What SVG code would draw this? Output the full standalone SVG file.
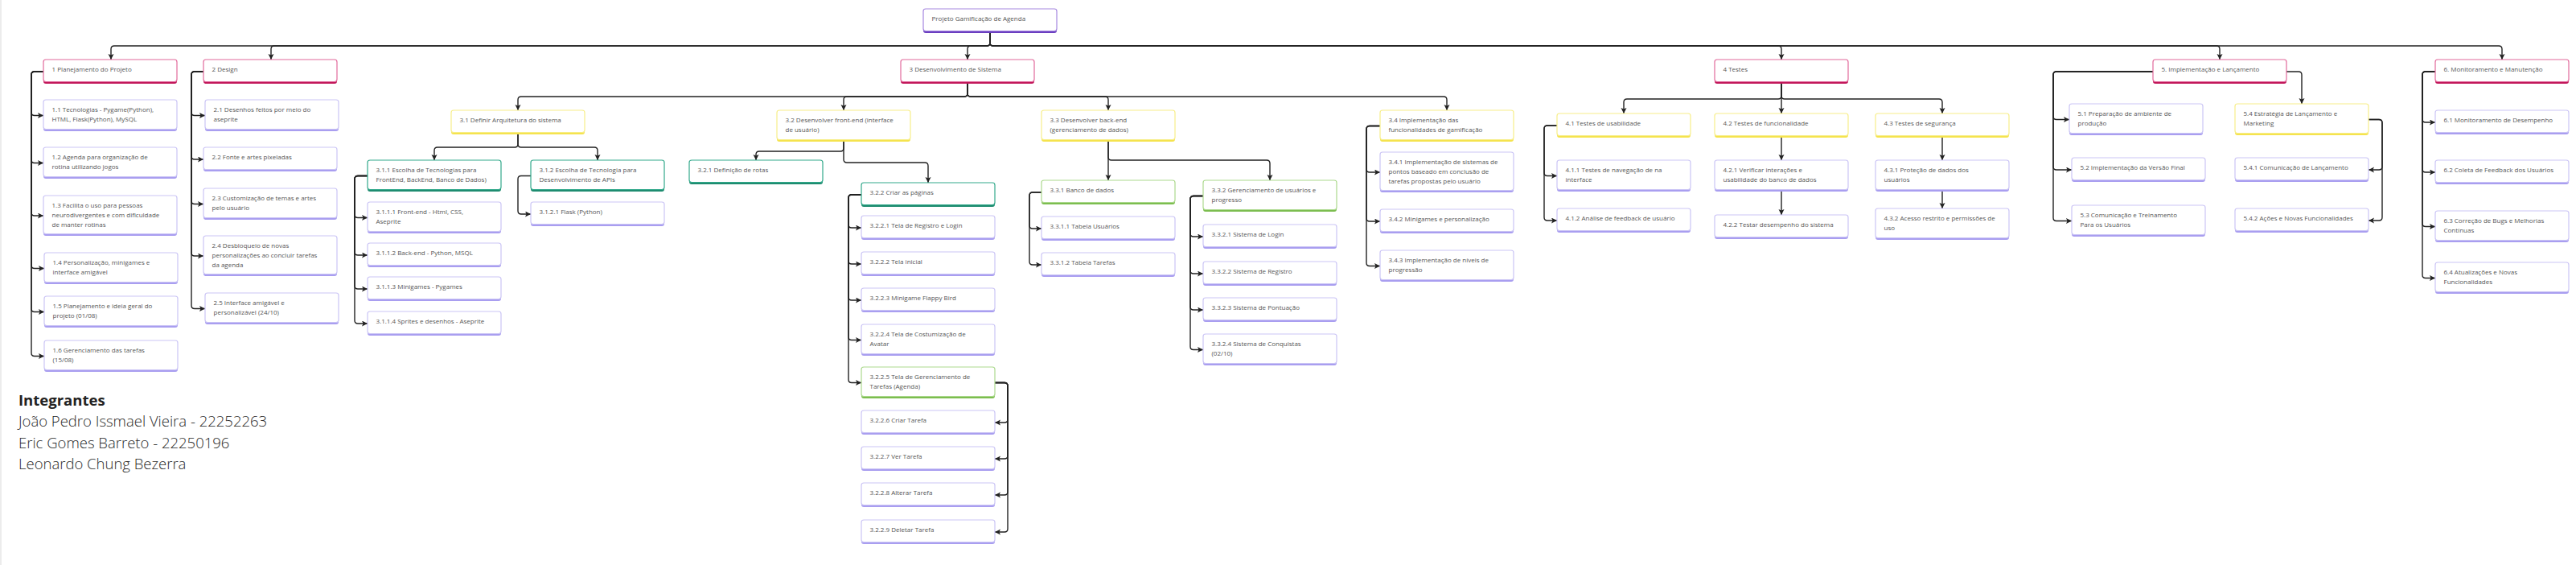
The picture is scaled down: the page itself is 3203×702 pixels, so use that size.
<svg xmlns="http://www.w3.org/2000/svg" width="3203" height="702" viewBox="0 0 3203 702">
<style>
.bg{fill:#fff}
.b{rx:3px;ry:3px}
.f{fill:#fff;stroke-width:1.2;rx:3px;ry:3px}
text{font-family:"Open Sans","Liberation Sans",sans-serif;font-size:8px;fill:#555}
.pur .b{fill:#6b3fc0}.pur .f{stroke:#a688e0}
.mag .b{fill:#c2185b}.mag .f{stroke:#e26a9c}
.yel .b{fill:#f5e34e}.yel .f{stroke:#f7ee8a}
.teal .b{fill:#1e8c70}.teal .f{stroke:#33a98b}
.grn .b{fill:#7cbd4f}.grn .f{stroke:#acd98e}
.lav .b{fill:#a99ef0}.lav .f{stroke:#cbc5f5}
#conn path{fill:none;stroke:#222;stroke-width:1.4;marker-end:url(#arr)}
.hd{font-size:18.5px;font-weight:700;fill:#222}
.mb{font-size:18.5px;font-weight:300;fill:#2a2a2a}
</style>
<defs>
<marker id="arr" markerUnits="userSpaceOnUse" markerWidth="8" markerHeight="8" refX="7" refY="3.5" orient="auto">
<path d="M0,0 L7,3.5 L0,7 L1.6,3.5 z" fill="#222"/>
</marker>
</defs>
<rect class="bg" x="0" y="0" width="3203" height="702"/>
<rect x="0" y="0" width="2" height="702" fill="#ececec"/>

<g id="conn">
<path d="M1231,41 V53 Q1231,57 1227,57 H142 Q138,57 138,61 V74"/>
<path d="M1231,41 V53 Q1231,57 1227,57 H341 Q337,57 337,61 V74"/>
<path d="M1231,41 V53 Q1231,57 1227,57 H1207 Q1203,57 1203,61 V74"/>
<path d="M1231,41 V53 Q1231,57 1235,57 H2211 Q2215,57 2215,61 V74"/>
<path d="M1231,41 V53 Q1231,57 1235,57 H2756 Q2760,57 2760,61 V74"/>
<path d="M1231,41 V53 Q1231,57 1235,57 H3107 Q3111,57 3111,61 V74"/>

<path d="M54,89 H43 Q39,89 39,93 V139.5 Q39,143.5 43,143.5 H54"/>
<path d="M54,89 H43 Q39,89 39,93 V198.5 Q39,202.5 43,202.5 H54"/>
<path d="M54,89 H43 Q39,89 39,93 V264 Q39,268 43,268 H54"/>
<path d="M54,89 H43 Q39,89 39,93 V329.5 Q39,333.5 43,333.5 H55"/>
<path d="M54,89 H43 Q39,89 39,93 V383.5 Q39,387.5 43,387.5 H55"/>
<path d="M54,89 H43 Q39,89 39,93 V438.5 Q39,442.5 43,442.5 H55"/>

<path d="M253,89 H242 Q238,89 238,93 V139.5 Q238,143.5 242,143.5 H255"/>
<path d="M253,89 H242 Q238,89 238,93 V194 Q238,198 242,198 H253"/>
<path d="M253,89 H242 Q238,89 238,93 V249.5 Q238,253.5 242,253.5 H253"/>
<path d="M253,89 H242 Q238,89 238,93 V314 Q238,318 242,318 H253"/>
<path d="M253,89 H242 Q238,89 238,93 V379.5 Q238,383.5 242,383.5 H255"/>

<path d="M1203,104 V116 Q1203,120 1199,120 H648 Q644,120 644,124 V137"/>
<path d="M1203,104 V116 Q1203,120 1199,120 H1053 Q1049,120 1049,124 V137"/>
<path d="M1203,104 V116 Q1203,120 1207,120 H1374 Q1378,120 1378,124 V137"/>
<path d="M1203,104 V116 Q1203,120 1207,120 H1795 Q1799,120 1799,124 V137"/>

<path d="M644,167 V179 Q644,183 640,183 H544 Q540,183 540,187 V199"/>
<path d="M644,167 V179 Q644,183 648,183 H739 Q743,183 743,187 V199"/>

<path d="M457,218.5 H445 Q441,218.5 441,222.5 V266.5 Q441,270.5 445,270.5 H457"/>
<path d="M457,218.5 H445 Q441,218.5 441,222.5 V313 Q441,317 445,317 H457"/>
<path d="M457,218.5 H445 Q441,218.5 441,222.5 V355 Q441,359 445,359 H457"/>
<path d="M457,218.5 H445 Q441,218.5 441,222.5 V398 Q441,402 445,402 H457"/>
<path d="M660,218.5 H648 Q644,218.5 644,222.5 V262 Q644,266 648,266 H660"/>

<path d="M1049,176 V184 Q1049,188 1045,188 H944 Q940,188 940,192 V199"/>
<path d="M1049,176 V198 Q1049,202 1053,202 H1150 Q1154,202 1154,206 V227"/>

<path d="M1071,242 H1059 Q1055,242 1055,246 V279 Q1055,283 1059,283 H1071"/>
<path d="M1071,242 H1059 Q1055,242 1055,246 V324 Q1055,328 1059,328 H1071"/>
<path d="M1071,242 H1059 Q1055,242 1055,246 V369 Q1055,373 1059,373 H1071"/>
<path d="M1071,242 H1059 Q1055,242 1055,246 V418.5 Q1055,422.5 1059,422.5 H1071"/>
<path d="M1071,242 H1059 Q1055,242 1055,246 V471.5 Q1055,475.5 1059,475.5 H1071"/>

<path d="M1237,475.5 H1249 Q1253,475.5 1253,479.5 V521 Q1253,525 1249,525 H1237"/>
<path d="M1237,475.5 H1249 Q1253,475.5 1253,479.5 V566 Q1253,570 1249,570 H1237"/>
<path d="M1237,475.5 H1249 Q1253,475.5 1253,479.5 V611 Q1253,615 1249,615 H1237"/>
<path d="M1237,475.5 H1249 Q1253,475.5 1253,479.5 V657 Q1253,661 1249,661 H1237"/>

<path d="M1378,176 V224"/>
<path d="M1378,176 V195 Q1378,199 1382,199 H1575 Q1579,199 1579,203 V224"/>

<path d="M1295,239 H1284 Q1280,239 1280,243 V280 Q1280,284 1284,284 H1295"/>
<path d="M1295,239 H1284 Q1280,239 1280,243 V325 Q1280,329 1284,329 H1295"/>

<path d="M1496,243.5 H1484 Q1480,243.5 1480,247.5 V290 Q1480,294 1484,294 H1496"/>
<path d="M1496,243.5 H1484 Q1480,243.5 1480,247.5 V336 Q1480,340 1484,340 H1496"/>
<path d="M1496,243.5 H1484 Q1480,243.5 1480,247.5 V381 Q1480,385 1484,385 H1496"/>
<path d="M1496,243.5 H1484 Q1480,243.5 1480,247.5 V430.5 Q1480,434.5 1484,434.5 H1496"/>

<path d="M1716,156.5 H1703 Q1699,156.5 1699,160.5 V210 Q1699,214 1703,214 H1716"/>
<path d="M1716,156.5 H1703 Q1699,156.5 1699,160.5 V271 Q1699,275 1703,275 H1716"/>
<path d="M1716,156.5 H1703 Q1699,156.5 1699,160.5 V326.5 Q1699,330.5 1703,330.5 H1716"/>

<path d="M2215,104 V119 Q2215,123 2211,123 H2023 Q2019,123 2019,127 V141"/>
<path d="M2215,104 V141"/>
<path d="M2215,104 V119 Q2215,123 2219,123 H2411 Q2415,123 2415,127 V141"/>

<path d="M1936,156 H1924 Q1920,156 1920,160 V214.5 Q1920,218.5 1924,218.5 H1936"/>
<path d="M1936,156 H1924 Q1920,156 1920,160 V270 Q1920,274 1924,274 H1936"/>
<path d="M2215,171 V199"/>
<path d="M2215,238 V267"/>
<path d="M2415,171 V199"/>
<path d="M2415,238 V259"/>

<path d="M2677,89 H2557 Q2553,89 2553,93 V144.5 Q2553,148.5 2557,148.5 H2573"/>
<path d="M2677,89 H2557 Q2553,89 2553,93 V207 Q2553,211 2557,211 H2576"/>
<path d="M2677,89 H2557 Q2553,89 2553,93 V270.5 Q2553,274.5 2557,274.5 H2576"/>
<path d="M2843,89 H2858 Q2862,89 2862,93 V129"/>
<path d="M2945,148.5 H2958 Q2962,148.5 2962,152.5 V207 Q2962,211 2958,211 H2945"/>
<path d="M2945,148.5 H2958 Q2962,148.5 2962,152.5 V270 Q2962,274 2958,274 H2945"/>

<path d="M3028,89 H3016 Q3012,89 3012,93 V148 Q3012,152 3016,152 H3028"/>
<path d="M3028,89 H3016 Q3012,89 3012,93 V210 Q3012,214 3016,214 H3028"/>
<path d="M3028,89 H3016 Q3012,89 3012,93 V277.5 Q3012,281.5 3016,281.5 H3028"/>
<path d="M3028,89 H3016 Q3012,89 3012,93 V341.5 Q3012,345.5 3016,345.5 H3028"/>
</g>

<g id="root" class="pur"><rect class="b" x="1148" y="11" width="166" height="30"/><rect class="f" x="1148" y="11" width="166" height="27.5"/><text x="1158.5" y="26">Projeto Gamificação de Agenda</text></g>

<g id="n1" class="mag"><rect class="b" x="54" y="74" width="166" height="30"/><rect class="f" x="54" y="74" width="166" height="27.5"/><text x="64.5" y="89">1 Planejamento do Projeto</text></g>
<g id="n1-1" class="lav"><rect class="b" x="54" y="124" width="166" height="39"/><rect class="f" x="54" y="124" width="166" height="36.5"/><text x="64.5" y="139">1.1 Tecnologias - Pygame(Python),<tspan x="64.5" y="151">HTML, Flask(Python), MySQL</tspan></text></g>
<g id="n1-2" class="lav"><rect class="b" x="54" y="183" width="166" height="39"/><rect class="f" x="54" y="183" width="166" height="36.5"/><text x="64.5" y="198">1.2 Agenda para organização de<tspan x="64.5" y="210">rotina utilizando jogos</tspan></text></g>
<g id="n1-3" class="lav"><rect class="b" x="54" y="243" width="166" height="50"/><rect class="f" x="54" y="243" width="166" height="47.5"/><text x="64.5" y="258">1.3 Facilita o uso para pessoas<tspan x="64.5" y="270">neurodivergentes e com dificuldade</tspan><tspan x="64.5" y="282">de manter rotinas</tspan></text></g>
<g id="n1-4" class="lav"><rect class="b" x="55" y="314" width="166" height="39"/><rect class="f" x="55" y="314" width="166" height="36.5"/><text x="65.5" y="329">1.4 Personalização, minigames e<tspan x="65.5" y="341">interface amigável</tspan></text></g>
<g id="n1-5" class="lav"><rect class="b" x="55" y="368" width="166" height="39"/><rect class="f" x="55" y="368" width="166" height="36.5"/><text x="65.5" y="383">1.5 Planejamento e ideia geral do<tspan x="65.5" y="395">projeto (01/08)</tspan></text></g>
<g id="n1-6" class="lav"><rect class="b" x="55" y="423" width="166" height="39"/><rect class="f" x="55" y="423" width="166" height="36.5"/><text x="65.5" y="438">1.6 Gerenciamento das tarefas<tspan x="65.5" y="450">(15/08)</tspan></text></g>

<g id="n2" class="mag"><rect class="b" x="253" y="74" width="166" height="30"/><rect class="f" x="253" y="74" width="166" height="27.5"/><text x="263.5" y="89">2 Design</text></g>
<g id="n2-1" class="lav"><rect class="b" x="255" y="124" width="166" height="39"/><rect class="f" x="255" y="124" width="166" height="36.5"/><text x="265.5" y="139">2.1 Desenhos feitos por meio do<tspan x="265.5" y="151">aseprite</tspan></text></g>
<g id="n2-2" class="lav"><rect class="b" x="253" y="183" width="166" height="30"/><rect class="f" x="253" y="183" width="166" height="27.5"/><text x="263.5" y="198">2.2 Fonte e artes pixeladas</text></g>
<g id="n2-3" class="lav"><rect class="b" x="253" y="234" width="166" height="39"/><rect class="f" x="253" y="234" width="166" height="36.5"/><text x="263.5" y="249">2.3 Customização de temas e artes<tspan x="263.5" y="261">pelo usuário</tspan></text></g>
<g id="n2-4" class="lav"><rect class="b" x="253" y="293" width="166" height="50"/><rect class="f" x="253" y="293" width="166" height="47.5"/><text x="263.5" y="308">2.4 Desbloqueio de novas<tspan x="263.5" y="320">personalizações ao concluir tarefas</tspan><tspan x="263.5" y="332">da agenda</tspan></text></g>
<g id="n2-5" class="lav"><rect class="b" x="255" y="364" width="166" height="39"/><rect class="f" x="255" y="364" width="166" height="36.5"/><text x="265.5" y="379">2.5 Interface amigável e<tspan x="265.5" y="391">personalizável (24/10)</tspan></text></g>

<g id="n3" class="mag"><rect class="b" x="1120" y="74" width="166" height="30"/><rect class="f" x="1120" y="74" width="166" height="27.5"/><text x="1130.5" y="89">3 Desenvolvimento de Sistema</text></g>
<g id="n3-1" class="yel"><rect class="b" x="561" y="137" width="166" height="30"/><rect class="f" x="561" y="137" width="166" height="27.5"/><text x="571.5" y="152">3.1 Definir Arquitetura do sistema</text></g>
<g id="n3-1-1" class="teal"><rect class="b" x="457" y="199" width="166" height="39"/><rect class="f" x="457" y="199" width="166" height="36.5"/><text x="467.5" y="214">3.1.1 Escolha de Tecnologias para<tspan x="467.5" y="226">FrontEnd, BackEnd, Banco de Dados)</tspan></text></g>
<g id="n3-1-1-1" class="lav"><rect class="b" x="457" y="251" width="166" height="39"/><rect class="f" x="457" y="251" width="166" height="36.5"/><text x="467.5" y="266">3.1.1.1 Front-end - Html, CSS,<tspan x="467.5" y="278">Aseprite</tspan></text></g>
<g id="n3-1-1-2" class="lav"><rect class="b" x="457" y="302" width="166" height="30"/><rect class="f" x="457" y="302" width="166" height="27.5"/><text x="467.5" y="317">3.1.1.2 Back-end - Python, MSQL</text></g>
<g id="n3-1-1-3" class="lav"><rect class="b" x="457" y="344" width="166" height="30"/><rect class="f" x="457" y="344" width="166" height="27.5"/><text x="467.5" y="359">3.1.1.3 Minigames - Pygames</text></g>
<g id="n3-1-1-4" class="lav"><rect class="b" x="457" y="387" width="166" height="30"/><rect class="f" x="457" y="387" width="166" height="27.5"/><text x="467.5" y="402">3.1.1.4 Sprites e desenhos - Aseprite</text></g>
<g id="n3-1-2" class="teal"><rect class="b" x="660" y="199" width="166" height="39"/><rect class="f" x="660" y="199" width="166" height="36.5"/><text x="670.5" y="214">3.1.2 Escolha de Tecnologia para<tspan x="670.5" y="226">Desenvolvimento de APIs</tspan></text></g>
<g id="n3-1-2-1" class="lav"><rect class="b" x="660" y="251" width="166" height="30"/><rect class="f" x="660" y="251" width="166" height="27.5"/><text x="670.5" y="266">3.1.2.1 Flask (Python)</text></g>

<g id="n3-2" class="yel"><rect class="b" x="966" y="137" width="166" height="39"/><rect class="f" x="966" y="137" width="166" height="36.5"/><text x="976.5" y="152">3.2 Desenvolver front-end (interface<tspan x="976.5" y="164">de usuário)</tspan></text></g>
<g id="n3-2-1" class="teal"><rect class="b" x="857" y="199" width="166" height="30"/><rect class="f" x="857" y="199" width="166" height="27.5"/><text x="867.5" y="214">3.2.1 Definição de rotas</text></g>
<g id="n3-2-2" class="teal"><rect class="b" x="1071" y="227" width="166" height="30"/><rect class="f" x="1071" y="227" width="166" height="27.5"/><text x="1081.5" y="242">3.2.2 Criar as páginas</text></g>
<g id="n3-2-2-1" class="lav"><rect class="b" x="1071" y="268" width="166" height="30"/><rect class="f" x="1071" y="268" width="166" height="27.5"/><text x="1081.5" y="283">3.2.2.1 Tela de Registro e Login</text></g>
<g id="n3-2-2-2" class="lav"><rect class="b" x="1071" y="313" width="166" height="30"/><rect class="f" x="1071" y="313" width="166" height="27.5"/><text x="1081.5" y="328">3.2.2.2 Tela inicial</text></g>
<g id="n3-2-2-3" class="lav"><rect class="b" x="1071" y="358" width="166" height="30"/><rect class="f" x="1071" y="358" width="166" height="27.5"/><text x="1081.5" y="373">3.2.2.3 Minigame Flappy Bird</text></g>
<g id="n3-2-2-4" class="lav"><rect class="b" x="1071" y="403" width="166" height="39"/><rect class="f" x="1071" y="403" width="166" height="36.5"/><text x="1081.5" y="418">3.2.2.4 Tela de Costumização de<tspan x="1081.5" y="430">Avatar</tspan></text></g>
<g id="n3-2-2-5" class="grn"><rect class="b" x="1071" y="456" width="166" height="39"/><rect class="f" x="1071" y="456" width="166" height="36.5"/><text x="1081.5" y="471">3.2.2.5 Tela de Gerenciamento de<tspan x="1081.5" y="483">Tarefas (Agenda)</tspan></text></g>
<g id="n3-2-2-6" class="lav"><rect class="b" x="1071" y="510" width="166" height="30"/><rect class="f" x="1071" y="510" width="166" height="27.5"/><text x="1081.5" y="525">3.2.2.6 Criar Tarefa</text></g>
<g id="n3-2-2-7" class="lav"><rect class="b" x="1071" y="555" width="166" height="30"/><rect class="f" x="1071" y="555" width="166" height="27.5"/><text x="1081.5" y="570">3.2.2.7 Ver Tarefa</text></g>
<g id="n3-2-2-8" class="lav"><rect class="b" x="1071" y="600" width="166" height="30"/><rect class="f" x="1071" y="600" width="166" height="27.5"/><text x="1081.5" y="615">3.2.2.8 Alterar Tarefa</text></g>
<g id="n3-2-2-9" class="lav"><rect class="b" x="1071" y="646" width="166" height="30"/><rect class="f" x="1071" y="646" width="166" height="27.5"/><text x="1081.5" y="661">3.2.2.9 Deletar Tarefa</text></g>

<g id="n3-3" class="yel"><rect class="b" x="1295" y="137" width="166" height="39"/><rect class="f" x="1295" y="137" width="166" height="36.5"/><text x="1305.5" y="152">3.3 Desenvolver back-end<tspan x="1305.5" y="164">(gerenciamento de dados)</tspan></text></g>
<g id="n3-3-1" class="grn"><rect class="b" x="1295" y="224" width="166" height="30"/><rect class="f" x="1295" y="224" width="166" height="27.5"/><text x="1305.5" y="239">3.3.1 Banco de dados</text></g>
<g id="n3-3-1-1" class="lav"><rect class="b" x="1295" y="269" width="166" height="30"/><rect class="f" x="1295" y="269" width="166" height="27.5"/><text x="1305.5" y="284">3.3.1.1 Tabela Usuários</text></g>
<g id="n3-3-1-2" class="lav"><rect class="b" x="1295" y="314" width="166" height="30"/><rect class="f" x="1295" y="314" width="166" height="27.5"/><text x="1305.5" y="329">3.3.1.2 Tabela Tarefas</text></g>
<g id="n3-3-2" class="grn"><rect class="b" x="1496" y="224" width="166" height="39"/><rect class="f" x="1496" y="224" width="166" height="36.5"/><text x="1506.5" y="239">3.3.2 Gerenciamento de usuários e<tspan x="1506.5" y="251">progresso</tspan></text></g>
<g id="n3-3-2-1" class="lav"><rect class="b" x="1496" y="279" width="166" height="30"/><rect class="f" x="1496" y="279" width="166" height="27.5"/><text x="1506.5" y="294">3.3.2.1 Sistema de Login</text></g>
<g id="n3-3-2-2" class="lav"><rect class="b" x="1496" y="325" width="166" height="30"/><rect class="f" x="1496" y="325" width="166" height="27.5"/><text x="1506.5" y="340">3.3.2.2 Sistema de Registro</text></g>
<g id="n3-3-2-3" class="lav"><rect class="b" x="1496" y="370" width="166" height="30"/><rect class="f" x="1496" y="370" width="166" height="27.5"/><text x="1506.5" y="385">3.3.2.3 Sistema de Pontuação</text></g>
<g id="n3-3-2-4" class="lav"><rect class="b" x="1496" y="415" width="166" height="39"/><rect class="f" x="1496" y="415" width="166" height="36.5"/><text x="1506.5" y="430">3.3.2.4 Sistema de Conquistas<tspan x="1506.5" y="442">(02/10)</tspan></text></g>

<g id="n3-4" class="yel"><rect class="b" x="1716" y="137" width="166" height="39"/><rect class="f" x="1716" y="137" width="166" height="36.5"/><text x="1726.5" y="152">3.4 Implementação das<tspan x="1726.5" y="164">funcionalidades de gamificação</tspan></text></g>
<g id="n3-4-1" class="lav"><rect class="b" x="1716" y="189" width="166" height="50"/><rect class="f" x="1716" y="189" width="166" height="47.5"/><text x="1726.5" y="204">3.4.1 Implementação de sistemas de<tspan x="1726.5" y="216">pontos baseado em conclusão de</tspan><tspan x="1726.5" y="228">tarefas propostas pelo usuário</tspan></text></g>
<g id="n3-4-2" class="lav"><rect class="b" x="1716" y="260" width="166" height="30"/><rect class="f" x="1716" y="260" width="166" height="27.5"/><text x="1726.5" y="275">3.4.2 Minigames e personalização</text></g>
<g id="n3-4-3" class="lav"><rect class="b" x="1716" y="311" width="166" height="39"/><rect class="f" x="1716" y="311" width="166" height="36.5"/><text x="1726.5" y="326">3.4.3 Implementação de níveis de<tspan x="1726.5" y="338">progressão</tspan></text></g>

<g id="n4" class="mag"><rect class="b" x="2132" y="74" width="166" height="30"/><rect class="f" x="2132" y="74" width="166" height="27.5"/><text x="2142.5" y="89">4 Testes</text></g>
<g id="n4-1" class="yel"><rect class="b" x="1936" y="141" width="166" height="30"/><rect class="f" x="1936" y="141" width="166" height="27.5"/><text x="1946.5" y="156">4.1 Testes de usabilidade</text></g>
<g id="n4-1-1" class="lav"><rect class="b" x="1936" y="199" width="166" height="39"/><rect class="f" x="1936" y="199" width="166" height="36.5"/><text x="1946.5" y="214">4.1.1 Testes de navegação de na<tspan x="1946.5" y="226">interface</tspan></text></g>
<g id="n4-1-2" class="lav"><rect class="b" x="1936" y="259" width="166" height="30"/><rect class="f" x="1936" y="259" width="166" height="27.5"/><text x="1946.5" y="274">4.1.2 Análise de feedback de usuário</text></g>
<g id="n4-2" class="yel"><rect class="b" x="2132" y="141" width="166" height="30"/><rect class="f" x="2132" y="141" width="166" height="27.5"/><text x="2142.5" y="156">4.2 Testes de funcionalidade</text></g>
<g id="n4-2-1" class="lav"><rect class="b" x="2132" y="199" width="166" height="39"/><rect class="f" x="2132" y="199" width="166" height="36.5"/><text x="2142.5" y="214">4.2.1 Verificar interações e<tspan x="2142.5" y="226">usabilidade do banco de dados</tspan></text></g>
<g id="n4-2-2" class="lav"><rect class="b" x="2132" y="267" width="166" height="30"/><rect class="f" x="2132" y="267" width="166" height="27.5"/><text x="2142.5" y="282">4.2.2 Testar desempenho do sistema</text></g>
<g id="n4-3" class="yel"><rect class="b" x="2332" y="141" width="166" height="30"/><rect class="f" x="2332" y="141" width="166" height="27.5"/><text x="2342.5" y="156">4.3 Testes de segurança</text></g>
<g id="n4-3-1" class="lav"><rect class="b" x="2332" y="199" width="166" height="39"/><rect class="f" x="2332" y="199" width="166" height="36.5"/><text x="2342.5" y="214">4.3.1 Proteção de dados dos<tspan x="2342.5" y="226">usuários</tspan></text></g>
<g id="n4-3-2" class="lav"><rect class="b" x="2332" y="259" width="166" height="39"/><rect class="f" x="2332" y="259" width="166" height="36.5"/><text x="2342.5" y="274">4.3.2 Acesso restrito e permissões de<tspan x="2342.5" y="286">uso</tspan></text></g>

<g id="n5" class="mag"><rect class="b" x="2677" y="74" width="166" height="30"/><rect class="f" x="2677" y="74" width="166" height="27.5"/><text x="2687.5" y="89">5. Implementação e Lançamento</text></g>
<g id="n5-1" class="lav"><rect class="b" x="2573" y="129" width="166" height="39"/><rect class="f" x="2573" y="129" width="166" height="36.5"/><text x="2583.5" y="144">5.1 Preparação de ambiente de<tspan x="2583.5" y="156">produção</tspan></text></g>
<g id="n5-2" class="lav"><rect class="b" x="2576" y="196" width="166" height="30"/><rect class="f" x="2576" y="196" width="166" height="27.5"/><text x="2586.5" y="211">5.2 Implementação da Versão Final</text></g>
<g id="n5-3" class="lav"><rect class="b" x="2576" y="255" width="166" height="39"/><rect class="f" x="2576" y="255" width="166" height="36.5"/><text x="2586.5" y="270">5.3 Comunicação e Treinamento<tspan x="2586.5" y="282">Para os Usuários</tspan></text></g>
<g id="n5-4" class="yel"><rect class="b" x="2779" y="129" width="166" height="39"/><rect class="f" x="2779" y="129" width="166" height="36.5"/><text x="2789.5" y="144">5.4 Estratégia de Lançamento e<tspan x="2789.5" y="156">Marketing</tspan></text></g>
<g id="n5-4-1" class="lav"><rect class="b" x="2779" y="196" width="166" height="30"/><rect class="f" x="2779" y="196" width="166" height="27.5"/><text x="2789.5" y="211">5.4.1 Comunicação de Lançamento</text></g>
<g id="n5-4-2" class="lav"><rect class="b" x="2779" y="259" width="166" height="30"/><rect class="f" x="2779" y="259" width="166" height="27.5"/><text x="2789.5" y="274">5.4.2 Ações e Novas Funcionalidades</text></g>

<g id="n6" class="mag"><rect class="b" x="3028" y="74" width="166" height="30"/><rect class="f" x="3028" y="74" width="166" height="27.5"/><text x="3038.5" y="89">6. Monitoramento e Manutenção</text></g>
<g id="n6-1" class="lav"><rect class="b" x="3028" y="137" width="166" height="30"/><rect class="f" x="3028" y="137" width="166" height="27.5"/><text x="3038.5" y="152">6.1 Monitoramento de Desempenho</text></g>
<g id="n6-2" class="lav"><rect class="b" x="3028" y="199" width="166" height="30"/><rect class="f" x="3028" y="199" width="166" height="27.5"/><text x="3038.5" y="214">6.2 Coleta de Feedback dos Usuários</text></g>
<g id="n6-3" class="lav"><rect class="b" x="3028" y="262" width="166" height="39"/><rect class="f" x="3028" y="262" width="166" height="36.5"/><text x="3038.5" y="277">6.3 Correção de Bugs e Melhorias<tspan x="3038.5" y="289">Contínuas</tspan></text></g>
<g id="n6-4" class="lav"><rect class="b" x="3028" y="326" width="166" height="39"/><rect class="f" x="3028" y="326" width="166" height="36.5"/><text x="3038.5" y="341">6.4 Atualizações e Novas<tspan x="3038.5" y="353">Funcionalidades</tspan></text></g>

<g id="integrantes">
<text class="hd" x="23" y="504">Integrantes</text>
<text class="mb" x="23" y="530">João Pedro Issmael Vieira - 22252263</text>
<text class="mb" x="23" y="557">Eric Gomes Barreto - 22250196</text>
<text class="mb" x="23" y="583">Leonardo Chung Bezerra</text>
</g>
</svg>
